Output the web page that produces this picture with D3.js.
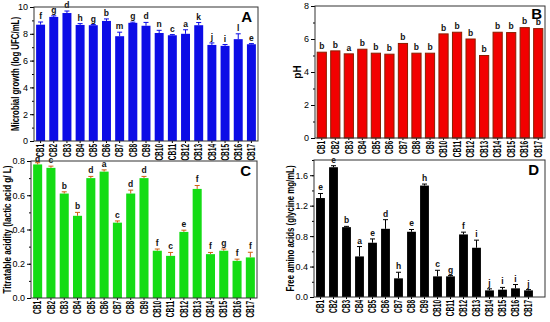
<!DOCTYPE html>
<html>
<head>
<meta charset="utf-8">
<script src="https://cdn.jsdelivr.net/npm/d3@7.9.0/dist/d3.min.js"></script>
<style>
  body { margin: 0; background: #fff; }
  svg { display: block; font-family: Arial, "Liberation Sans", sans-serif; }
  .tick text { font-size: 9px; }
</style>
</head>
<body>
<svg id="chart" width="550" height="322"></svg>
<script>
const samples = ["CB1","CB2","CB3","CB4","CB5","CB6","CB7","CB8","CB9","CB10","CB11","CB12","CB13","CB14","CB15","CB16","CB17"];

// A: microbial growth (log UFC/mL)
const growth = [8.68, 9.26, 9.55, 8.66, 8.64, 8.96, 7.82, 8.82, 8.6, 8.06, 7.89, 8.0, 8.64, 7.17, 7.1, 7.6, 7.22];
const growthErr = [0.2, 0.08, 0.15, 0.1, 0.05, 0.15, 0.3, 0.05, 0.25, 0.2, 0.05, 0.3, 0.2, 0.15, 0.1, 0.4, 0.05];
const growthLetters = ["f","g","d","h","g","b","m","g","d","n","c","a","k","j","i","l","e"];

// B: pH
const ph = [5.2, 5.28, 5.1, 5.38, 5.14, 5.08, 5.73, 5.14, 5.14, 6.31, 6.41, 6.0, 5.0, 6.41, 6.39, 6.69, 6.63];
const phErr = [0.02, 0.02, 0.02, 0.02, 0.02, 0.02, 0.02, 0.02, 0.02, 0.02, 0.02, 0.02, 0.02, 0.02, 0.02, 0.02, 0.02];
const phLetters = ["b","b","a","b","b","b","b","b","b","b","b","b","b","b","b","b","b"];

// C: titratable acidity (lactic acid g/L)
const acidity = [0.78, 0.76, 0.61, 0.48, 0.7, 0.738, 0.44, 0.61, 0.7, 0.276, 0.246, 0.386, 0.637, 0.256, 0.276, 0.217, 0.237];
const acidityErr = [0.01, 0.01, 0.01, 0.02, 0.01, 0.01, 0.01, 0.02, 0.01, 0.01, 0.02, 0.01, 0.02, 0.01, 0.01, 0.01, 0.03];
const acidityLetters = ["d","c","b","b","d","a","c","d","d","f","c","e","f","f","g","f","f"];

// D: free amino acids (glycine mg/mL)
const amino = [1.3, 1.705, 0.918, 0.533, 0.713, 0.896, 0.245, 0.857, 1.464, 0.271, 0.271, 0.822, 0.647, 0.087, 0.096, 0.114, 0.087];
const aminoErr = [0.06, 0.02, 0.01, 0.13, 0.05, 0.12, 0.08, 0.03, 0.02, 0.08, 0.01, 0.03, 0.1, 0.02, 0.03, 0.05, 0.01];
const aminoLetters = ["e","e","b","a","e","d","h","e","h","c","g","f","i","j","i","i","j"];

const svg = d3.select("#chart");
const squeeze = 0.62; // the source figure's text is narrow, so labels get squeezed along their length

function drawPanel(p) {
    const g = svg.append("g");
    const x = d3.scaleBand().domain(samples).range([p.left, p.barRight || p.right]).paddingInner(0.32).paddingOuter(0.16);
    const y = d3.scaleLinear().domain([0, p.max]).range([p.bottom, p.top]);

    // minor ticks
    g.append("g")
        .attr("transform", `translate(${p.left},0)`)
        .call(d3.axisLeft(y).tickValues(d3.range(0, p.max + 1e-9, p.minor)).tickSize(2).tickFormat(""))
        .call(a => a.select(".domain").remove());

    g.append("g")
        .attr("transform", `translate(${p.left},0)`)
        .call(d3.axisLeft(y).tickValues(p.ticks).tickSize(4).tickPadding(2).tickFormat(p.fmt))
        .call(a => a.select(".domain").remove());

    g.append("g")
        .attr("transform", `translate(0,${p.bottom})`)
        .call(d3.axisBottom(x).tickSize(2).tickPadding(2))
        .call(a => a.select(".domain").remove())
        .selectAll("text")
        .attr("transform", `rotate(-90) scale(${squeeze},1)`)
        .attr("text-anchor", "end")
        .attr("x", -3 / squeeze)
        .attr("y", 0)
        .attr("dy", "0.35em")
        .style("font-size", "10.5px")
        .style("font-weight", "bold");

    g.selectAll(".bar")
        .data(samples)
        .join("rect")
        .attr("x", d => x(d))
        .attr("width", x.bandwidth())
        .attr("y", (d, i) => y(p.values[i]))
        .attr("height", (d, i) => p.bottom - y(p.values[i]))
        .attr("fill", p.color)
        .attr("stroke", p.stroke || "none")
        .attr("stroke-width", 1);

    if (p.showErr) {
        const eb = g.selectAll(".err").data(samples).join("g").attr("stroke", p.errColor).attr("stroke-width", 1);
        eb.append("line")
            .attr("x1", d => x(d) + x.bandwidth() / 2)
            .attr("x2", d => x(d) + x.bandwidth() / 2)
            .attr("y1", (d, i) => y(p.values[i]))
            .attr("y2", (d, i) => y(p.values[i] + p.err[i]));
        eb.append("line")
            .attr("x1", d => x(d) + x.bandwidth() / 2 - 2.5)
            .attr("x2", d => x(d) + x.bandwidth() / 2 + 2.5)
            .attr("y1", (d, i) => y(p.values[i] + p.err[i]))
            .attr("y2", (d, i) => y(p.values[i] + p.err[i]));
    }

    g.selectAll(".letter")
        .data(samples)
        .join("text")
        .attr("x", d => x(d) + x.bandwidth() / 2)
        .attr("y", (d, i) => Math.max(y(p.values[i] + p.err[i]) - 3, p.top + 1))
        .attr("text-anchor", "middle")
        .style("font-size", "8.5px")
        .style("font-weight", "bold")
        .attr("fill", "#111")
        .text((d, i) => p.letters[i]);

    // frame
    g.append("rect")
        .attr("x", p.left).attr("y", p.top)
        .attr("width", p.right - p.left).attr("height", p.bottom - p.top)
        .attr("fill", "none").attr("stroke", "#333").attr("stroke-width", 1);

    g.append("text")
        .attr("x", p.right - (p.tagInset || 6)).attr("y", p.top + (p.tagDown || 15))
        .attr("text-anchor", "end")
        .style("font-size", "15px").style("font-weight", "bold")
        .text(p.tag);

    const lab = g.append("text")
        .attr("transform", `translate(${p.labelX},${(p.top + p.bottom) / 2}) rotate(-90)`)
        .attr("text-anchor", "middle")
        .attr("dy", "0.35em")
        .style("font-size", "10px").style("font-weight", "bold")
        .text(p.label);
    if (p.labelLen) lab.attr("textLength", p.labelLen).attr("lengthAdjust", "spacingAndGlyphs");
}

drawPanel({
    tag: "A", left: 34, right: 258, top: 7, bottom: 141, max: 10,
    ticks: [0, 2, 4, 6, 8, 10], minor: 1, fmt: d3.format("d"),
    values: growth, err: growthErr, letters: growthLetters,
    color: "#0c0ce6", showErr: true, errColor: "#0c0ce6",
    label: "Microbial growth (log UFC/mL)", labelX: 15, labelLen: 114
});

drawPanel({
    tag: "B", left: 315, right: 545, top: 6, bottom: 138, max: 8,
    ticks: [0, 2, 4, 6, 8], minor: 1, fmt: d3.format("d"),
    values: ph, err: phErr, letters: phLetters,
    color: "#f20000", stroke: "#8b1e00", showErr: false,
    label: "pH", labelX: 297, tagInset: 3, tagDown: 13
});

drawPanel({
    tag: "C", left: 31, right: 257, top: 161, bottom: 298, max: 0.8,
    ticks: [0, 0.2, 0.4, 0.6, 0.8], minor: 0.1, fmt: d3.format(".1f"),
    values: acidity, err: acidityErr, letters: acidityLetters,
    color: "#14dc14", showErr: true, errColor: "#d06010",
    label: "Titratable acidity (lactic acid g/ L)", labelX: 7, labelLen: 128
});

drawPanel({
    tag: "D", left: 314, right: 545, barRight: 535, top: 160, bottom: 297, max: 1.8,
    ticks: [0, 0.4, 0.8, 1.2, 1.6], minor: 0.2, fmt: d3.format(".1f"),
    values: amino, err: aminoErr, letters: aminoLetters,
    color: "#000", showErr: true, errColor: "#000",
    label: "Free amino acids (glycine mg/mL)", labelX: 290, labelLen: 126
});
</script>
</body>
</html>
